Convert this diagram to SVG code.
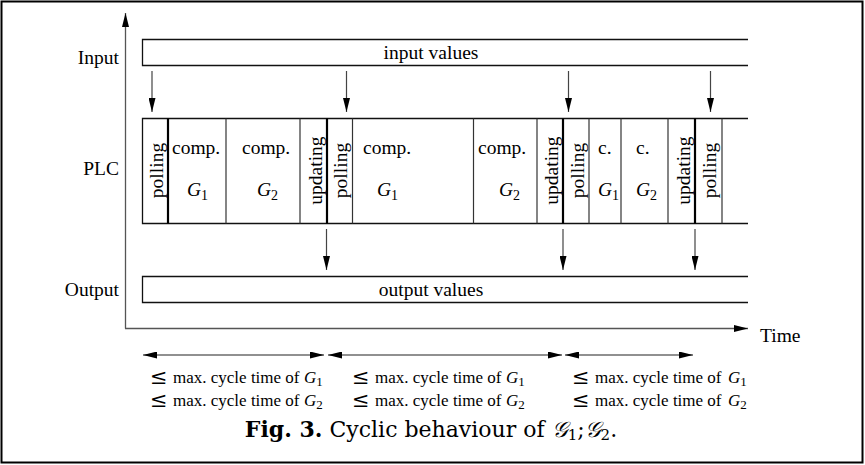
<svg xmlns="http://www.w3.org/2000/svg" width="865" height="465" viewBox="0 0 865 465">
<style>
.t{font-family:"Liberation Serif","Times New Roman",serif;font-size:19.5px;fill:#000}
.s{font-size:17px}
.le{font-family:"DejaVu Serif","Liberation Serif",serif;font-size:21px}
.i{font-style:italic}
.cap{font-family:"DejaVu Serif","Liberation Serif",serif;font-size:22px;fill:#000}
.bar{fill:none;stroke:#111;stroke-width:1.3}
.dv{stroke:#333;stroke-width:1.2}
.tk{stroke:#000;stroke-width:2.2}
.ax{stroke:#555;stroke-width:1.3;fill:none}
.arr{stroke:#444;stroke-width:1.2;fill:none;marker-end:url(#ah)}
.darr{stroke:#222;stroke-width:1.2;fill:none;marker-end:url(#ah);marker-start:url(#ah)}
</style>
<defs>
<marker id="ah" viewBox="0 0 14 7" markerWidth="14" markerHeight="7" refX="14" refY="3.5" orient="auto-start-reverse" markerUnits="userSpaceOnUse">
<path d="M0,0 L14,3.5 L0,7 z" fill="#000"/>
</marker>
</defs>
<rect id="frame" x="1.5" y="1.5" width="861" height="461" fill="#fff" stroke="#000" stroke-width="2"/>

<g id="axes">
<line class="ax" x1="125.5" y1="328.5" x2="125.5" y2="13" marker-end="url(#ah)"/>
<line class="ax" x1="125" y1="328.5" x2="748" y2="328.5" marker-end="url(#ah)"/>
<text class="t" x="760" y="342">Time</text>
</g>

<g id="labels">
<text class="t" x="119" y="63.5" text-anchor="end">Input</text>
<text class="t" x="119" y="175" text-anchor="end">PLC</text>
<text class="t" x="119" y="296" text-anchor="end">Output</text>
</g>

<g id="input-bar">
<path class="bar" d="M748,39.5 H142.5 V65.5 H748"/>
<text class="t" x="431" y="59" text-anchor="middle">input values</text>
</g>

<g id="plc-bar">
<path class="bar" d="M748,118.5 H142.5 V223.5 H748"/>
<g>
<line class="tk" x1="168" y1="118.5" x2="168" y2="223.5"/>
<line class="dv" x1="226" y1="118.5" x2="226" y2="223.5"/>
<line class="dv" x1="300" y1="118.5" x2="300" y2="223.5"/>
<line class="tk" x1="327" y1="118.5" x2="327" y2="223.5"/>
<line class="dv" x1="352.5" y1="118.5" x2="352.5" y2="223.5"/>
<line class="dv" x1="473.5" y1="118.5" x2="473.5" y2="223.5"/>
<line class="dv" x1="537" y1="118.5" x2="537" y2="223.5"/>
<line class="tk" x1="563" y1="118.5" x2="563" y2="223.5"/>
<line class="dv" x1="589" y1="118.5" x2="589" y2="223.5"/>
<line class="dv" x1="621" y1="118.5" x2="621" y2="223.5"/>
<line class="dv" x1="668" y1="118.5" x2="668" y2="223.5"/>
<line class="tk" x1="695" y1="118.5" x2="695" y2="223.5"/>
<line class="dv" x1="722" y1="118.5" x2="722" y2="223.5"/>
</g>
</g>

<g id="seg-polling-1"><text class="t" text-anchor="middle" transform="translate(162.5,170.5) rotate(-90)">polling</text></g>
<g id="seg-comp-g1-1"><text class="t" x="172" y="154">comp.</text><text class="t i" x="187" y="196">G<tspan font-style="normal" font-size="14" dy="4">1</tspan></text></g>
<g id="seg-comp-g2-1"><text class="t" x="242" y="154">comp.</text><text class="t i" x="257" y="196">G<tspan font-style="normal" font-size="14" dy="4">2</tspan></text></g>
<g id="seg-updating-1"><text class="t" text-anchor="middle" transform="translate(321.5,170.5) rotate(-90)">updating</text></g>
<g id="seg-polling-2"><text class="t" text-anchor="middle" transform="translate(347,170.5) rotate(-90)">polling</text></g>
<g id="seg-comp-g1-2"><text class="t" x="363" y="154">comp.</text><text class="t i" x="377" y="196">G<tspan font-style="normal" font-size="14" dy="4">1</tspan></text></g>
<g id="seg-comp-g2-2"><text class="t" x="478" y="154">comp.</text><text class="t i" x="499" y="196">G<tspan font-style="normal" font-size="14" dy="4">2</tspan></text></g>
<g id="seg-updating-2"><text class="t" text-anchor="middle" transform="translate(557.5,170.5) rotate(-90)">updating</text></g>
<g id="seg-polling-3"><text class="t" text-anchor="middle" transform="translate(583.5,170.5) rotate(-90)">polling</text></g>
<g id="seg-c-g1"><text class="t" x="598" y="154">c.</text><text class="t i" x="598" y="196">G<tspan font-style="normal" font-size="14" dy="4">1</tspan></text></g>
<g id="seg-c-g2"><text class="t" x="636" y="154">c.</text><text class="t i" x="636" y="196">G<tspan font-style="normal" font-size="14" dy="4">2</tspan></text></g>
<g id="seg-updating-3"><text class="t" text-anchor="middle" transform="translate(689.5,170.5) rotate(-90)">updating</text></g>
<g id="seg-polling-4"><text class="t" text-anchor="middle" transform="translate(716,170.5) rotate(-90)">polling</text></g>

<g id="output-bar">
<path class="bar" d="M748,276.5 H142.5 V302.5 H748"/>
<text class="t" x="431" y="296" text-anchor="middle">output values</text>
</g>

<g id="connectors">
<line class="arr" x1="152" y1="71" x2="152" y2="112"/>
<line class="arr" x1="346.5" y1="71" x2="346.5" y2="112"/>
<line class="arr" x1="568.5" y1="71" x2="568.5" y2="112"/>
<line class="arr" x1="710.5" y1="71" x2="710.5" y2="112"/>
<line class="arr" x1="326.5" y1="229" x2="326.5" y2="270"/>
<line class="arr" x1="563" y1="229" x2="563" y2="270"/>
<line class="arr" x1="695" y1="229" x2="695" y2="270"/>
<line class="darr" x1="143" y1="355" x2="324" y2="355"/>
<line class="darr" x1="328" y1="355" x2="562" y2="355"/>
<line class="darr" x1="565" y1="355" x2="693" y2="355"/>
</g>

<g id="interval-1">
<text class="t le" x="150" y="384">≤</text><text class="t s" x="173" y="383">max. cycle time of</text><text class="t s" x="304" y="383"><tspan class="i">G</tspan><tspan font-size="13" dy="3">1</tspan></text>
<text class="t le" x="150" y="407">≤</text><text class="t s" x="173" y="406">max. cycle time of</text><text class="t s" x="304" y="406"><tspan class="i">G</tspan><tspan font-size="13" dy="3">2</tspan></text>
</g>
<g id="interval-2">
<text class="t le" x="352" y="384">≤</text><text class="t s" x="375" y="383">max. cycle time of</text><text class="t s" x="506" y="383"><tspan class="i">G</tspan><tspan font-size="13" dy="3">1</tspan></text>
<text class="t le" x="352" y="407">≤</text><text class="t s" x="375" y="406">max. cycle time of</text><text class="t s" x="506" y="406"><tspan class="i">G</tspan><tspan font-size="13" dy="3">2</tspan></text>
</g>
<g id="interval-3">
<text class="t le" x="572" y="384">≤</text><text class="t s" x="595" y="383">max. cycle time of</text><text class="t s" x="728" y="383"><tspan class="i">G</tspan><tspan font-size="13" dy="3">1</tspan></text>
<text class="t le" x="572" y="407">≤</text><text class="t s" x="595" y="406">max. cycle time of</text><text class="t s" x="728" y="406"><tspan class="i">G</tspan><tspan font-size="13" dy="3">2</tspan></text>
</g>

<g id="caption">
<text class="cap" x="431" y="437" text-anchor="middle"><tspan font-weight="bold">Fig. 3.</tspan> Cyclic behaviour of <tspan font-style="italic">𝒢</tspan><tspan font-size="15" dy="3">1</tspan><tspan dy="-3">;</tspan><tspan font-style="italic">𝒢</tspan><tspan font-size="15" dy="3">2</tspan><tspan dy="-3">.</tspan></text>
</g>
</svg>
